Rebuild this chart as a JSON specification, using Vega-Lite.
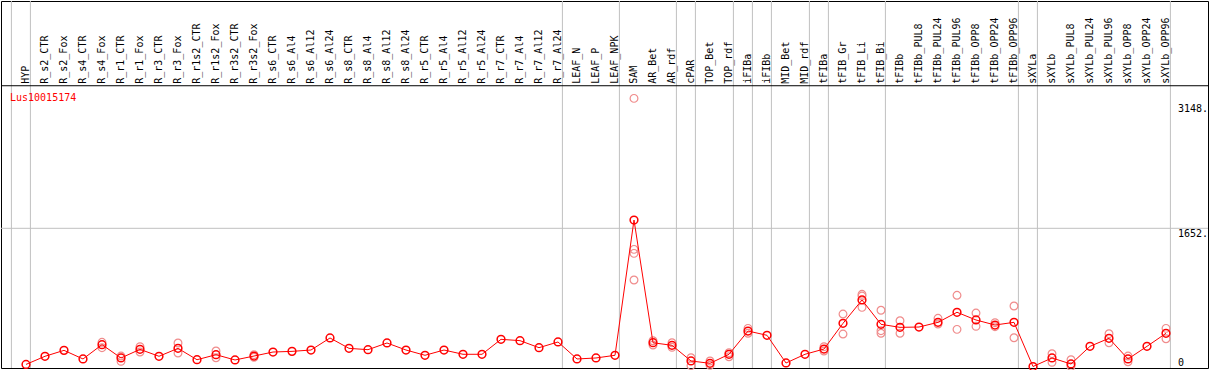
{
  "$schema": "https://vega.github.io/schema/vega-lite/v6.json",
  "width": 1207,
  "height": 367,
  "autosize": {"type": "none"},
  "padding": {"left": 1, "top": 1, "right": 1, "bottom": 2},
  "background": "white",
  "config": {"view": {"stroke": "black", "strokeWidth": 1}, "font": "DejaVu Sans Mono"},
  "title": {"text": "Lus10015174", "anchor": "start", "frame": "group", "orient": "top", "offset": -110, "baseline": "alphabetic", "color": "red", "font": "DejaVu Sans Mono", "fontSize": 10, "fontWeight": "normal", "dx": 9},
  "datasets": {
    "cols": [
      {"idx": 1, "name": "HYP", "mean": 25},
      {"idx": 2, "name": "R_s2_CTR", "mean": 122},
      {"idx": 3, "name": "R_s2_Fox", "mean": 193},
      {"idx": 4, "name": "R_s4_CTR", "mean": 90},
      {"idx": 5, "name": "R_s4_Fox", "mean": 261},
      {"idx": 6, "name": "R_r1_CTR", "mean": 102},
      {"idx": 7, "name": "R_r1_Fox", "mean": 205},
      {"idx": 8, "name": "R_r3_CTR", "mean": 122},
      {"idx": 9, "name": "R_r3_Fox", "mean": 217},
      {"idx": 10, "name": "R_r1s2_CTR", "mean": 81},
      {"idx": 11, "name": "R_r1s2_Fox", "mean": 141},
      {"idx": 12, "name": "R_r3s2_CTR", "mean": 78},
      {"idx": 13, "name": "R_r3s2_Fox", "mean": 125},
      {"idx": 14, "name": "R_s6_CTR", "mean": 173},
      {"idx": 15, "name": "R_s6_Al4", "mean": 181},
      {"idx": 16, "name": "R_s6_Al12", "mean": 197},
      {"idx": 17, "name": "R_s6_Al24", "mean": 341},
      {"idx": 18, "name": "R_s8_CTR", "mean": 217},
      {"idx": 19, "name": "R_s8_Al4", "mean": 201},
      {"idx": 20, "name": "R_s8_Al12", "mean": 281},
      {"idx": 21, "name": "R_s8_Al24", "mean": 197},
      {"idx": 22, "name": "R_r5_CTR", "mean": 134},
      {"idx": 23, "name": "R_r5_Al4", "mean": 197},
      {"idx": 24, "name": "R_r5_Al12", "mean": 146},
      {"idx": 25, "name": "R_r5_Al24", "mean": 146},
      {"idx": 26, "name": "R_r7_CTR", "mean": 325},
      {"idx": 27, "name": "R_r7_Al4", "mean": 309},
      {"idx": 28, "name": "R_r7_Al12", "mean": 225},
      {"idx": 29, "name": "R_r7_Al24", "mean": 293},
      {"idx": 30, "name": "LEAF_N", "mean": 90},
      {"idx": 31, "name": "LEAF_P", "mean": 102},
      {"idx": 32, "name": "LEAF_NPK", "mean": 134},
      {"idx": 33, "name": "SAM", "mean": 1751},
      {"idx": 34, "name": "AR_Bet", "mean": 284},
      {"idx": 35, "name": "AR_rdf", "mean": 253},
      {"idx": 36, "name": "cPAR", "mean": 66},
      {"idx": 37, "name": "TOP_Bet", "mean": 38},
      {"idx": 38, "name": "TOP_rdf", "mean": 146},
      {"idx": 39, "name": "iFIBa", "mean": 424},
      {"idx": 40, "name": "iFIBb", "mean": 373},
      {"idx": 41, "name": "MID_Bet", "mean": 42},
      {"idx": 42, "name": "MID_rdf", "mean": 146},
      {"idx": 43, "name": "tFIBa", "mean": 209},
      {"idx": 44, "name": "tFIB_Gr", "mean": 516},
      {"idx": 45, "name": "tFIB_Li", "mean": 795},
      {"idx": 46, "name": "tFIB_Bi", "mean": 504},
      {"idx": 47, "name": "tFIBb", "mean": 468},
      {"idx": 48, "name": "tFIBb_PUL8", "mean": 472},
      {"idx": 49, "name": "tFIBb_PUL24", "mean": 528},
      {"idx": 50, "name": "tFIBb_PUL96", "mean": 648},
      {"idx": 51, "name": "tFIBb_OPP8", "mean": 556},
      {"idx": 52, "name": "tFIBb_OPP24", "mean": 496},
      {"idx": 53, "name": "tFIBb_OPP96", "mean": 528},
      {"idx": 54, "name": "sXYLa", "mean": 0},
      {"idx": 55, "name": "sXYLb", "mean": 102},
      {"idx": 56, "name": "sXYLb_PUL8", "mean": 30},
      {"idx": 57, "name": "sXYLb_PUL24", "mean": 241},
      {"idx": 58, "name": "sXYLb_PUL96", "mean": 337},
      {"idx": 59, "name": "sXYLb_OPP8", "mean": 90},
      {"idx": 60, "name": "sXYLb_OPP24", "mean": 241},
      {"idx": 61, "name": "sXYLb_OPP96", "mean": 397}
    ],
    "reps": [
      {"idx": 5, "value": 289}, {"idx": 5, "value": 225},
      {"idx": 6, "value": 125}, {"idx": 6, "value": 62},
      {"idx": 7, "value": 237}, {"idx": 7, "value": 173},
      {"idx": 9, "value": 281}, {"idx": 9, "value": 161},
      {"idx": 11, "value": 185}, {"idx": 11, "value": 105},
      {"idx": 13, "value": 141}, {"idx": 13, "value": 110},
      {"idx": 33, "value": 3205}, {"idx": 33, "value": 1400}, {"idx": 33, "value": 1352}, {"idx": 33, "value": 1034},
      {"idx": 34, "value": 308}, {"idx": 34, "value": 257},
      {"idx": 35, "value": 284}, {"idx": 35, "value": 229},
      {"idx": 36, "value": 105}, {"idx": 36, "value": 10},
      {"idx": 37, "value": 66}, {"idx": 37, "value": 14},
      {"idx": 38, "value": 165}, {"idx": 38, "value": 117},
      {"idx": 39, "value": 456}, {"idx": 39, "value": 397},
      {"idx": 43, "value": 237}, {"idx": 43, "value": 185},
      {"idx": 44, "value": 627}, {"idx": 44, "value": 388},
      {"idx": 45, "value": 863}, {"idx": 45, "value": 842}, {"idx": 45, "value": 707},
      {"idx": 46, "value": 672}, {"idx": 46, "value": 428}, {"idx": 46, "value": 397},
      {"idx": 47, "value": 547}, {"idx": 47, "value": 397},
      {"idx": 49, "value": 576}, {"idx": 49, "value": 508},
      {"idx": 50, "value": 851}, {"idx": 50, "value": 444},
      {"idx": 51, "value": 639}, {"idx": 51, "value": 480},
      {"idx": 52, "value": 524}, {"idx": 52, "value": 476},
      {"idx": 53, "value": 723}, {"idx": 53, "value": 344},
      {"idx": 55, "value": 153}, {"idx": 55, "value": 50},
      {"idx": 56, "value": 81}, {"idx": 56, "value": 0},
      {"idx": 58, "value": 392}, {"idx": 58, "value": 284},
      {"idx": 59, "value": 125}, {"idx": 59, "value": 57},
      {"idx": 61, "value": 456}, {"idx": 61, "value": 332}
    ],
    "bounds": [
      {"idx": 0}, {"idx": 1}, {"idx": 29}, {"idx": 32}, {"idx": 35}, {"idx": 36}, {"idx": 38}, {"idx": 39}, {"idx": 40}, {"idx": 42}, {"idx": 43}, {"idx": 46}, {"idx": 53}, {"idx": 54}, {"idx": 61}
    ],
    "ylabels": [
      {"v": 3148, "label": "3148."},
      {"v": 1652, "label": "1652."},
      {"v": 0, "label": "0"}
    ]
  },
  "layer": [
    {
      "data": {"name": "bounds"},
      "mark": {"type": "rule", "color": "#c0c0c0", "strokeWidth": 1, "xOffset": 4.4},
      "encoding": {
        "x": {"field": "idx", "type": "quantitative", "scale": {"domain": [-0.3158, 63.2105], "nice": false, "zero": false}, "axis": null}
      }
    },
    {
      "data": {"values": [{}]},
      "mark": {"type": "rule", "color": "#c0c0c0", "strokeWidth": 1},
      "encoding": {
        "y": {"datum": 1652, "type": "quantitative", "scale": {"domain": [-17.9, 4369], "nice": false, "zero": false}, "axis": null}
      }
    },
    {
      "data": {"values": [{}]},
      "mark": {"type": "rule", "color": "black", "strokeWidth": 1},
      "encoding": {
        "y": {"datum": 3356, "type": "quantitative", "scale": {"domain": [-17.9, 4369], "nice": false, "zero": false}, "axis": null}
      }
    },
    {
      "data": {"name": "cols"},
      "mark": {"type": "text", "angle": 270, "align": "left", "baseline": "middle", "dx": 0, "font": "DejaVu Sans Mono", "fontSize": 10, "color": "black"},
      "encoding": {
        "x": {"field": "idx", "type": "quantitative", "scale": {"domain": [-0.3158, 63.2105], "nice": false, "zero": false}, "axis": null},
        "y": {"datum": 3380, "type": "quantitative", "scale": {"domain": [-17.9, 4369], "nice": false, "zero": false}, "axis": null},
        "text": {"field": "name", "type": "nominal"}
      }
    },
    {
      "data": {"name": "ylabels"},
      "transform": [{"filter": "datum.v > 0"}],
      "mark": {"type": "text", "align": "left", "baseline": "top", "dy": 1, "font": "DejaVu Sans Mono", "fontSize": 10, "color": "black"},
      "encoding": {
        "x": {"datum": 61.63, "type": "quantitative", "scale": {"domain": [-0.3158, 63.2105], "nice": false, "zero": false}, "axis": null},
        "y": {"field": "v", "type": "quantitative", "scale": {"domain": [-17.9, 4369], "nice": false, "zero": false}, "axis": null},
        "text": {"field": "label", "type": "nominal"}
      }
    },
    {
      "data": {"name": "ylabels"},
      "transform": [{"filter": "datum.v == 0"}],
      "mark": {"type": "text", "align": "left", "baseline": "alphabetic", "dy": -1, "font": "DejaVu Sans Mono", "fontSize": 10, "color": "black"},
      "encoding": {
        "x": {"datum": 61.63, "type": "quantitative", "scale": {"domain": [-0.3158, 63.2105], "nice": false, "zero": false}, "axis": null},
        "y": {"field": "v", "type": "quantitative", "scale": {"domain": [-17.9, 4369], "nice": false, "zero": false}, "axis": null},
        "text": {"field": "label", "type": "nominal"}
      }
    },
    {
      "data": {"name": "reps"},
      "mark": {"type": "point", "shape": "circle", "filled": false, "color": "#f08c8c", "strokeWidth": 1.2, "size": 60, "opacity": 1},
      "encoding": {
        "x": {"field": "idx", "type": "quantitative", "scale": {"domain": [-0.3158, 63.2105], "nice": false, "zero": false}, "axis": null},
        "y": {"field": "value", "type": "quantitative", "scale": {"domain": [-17.9, 4369], "nice": false, "zero": false}, "axis": null}
      }
    },
    {
      "data": {"name": "cols"},
      "mark": {"type": "line", "color": "red", "strokeWidth": 1},
      "encoding": {
        "x": {"field": "idx", "type": "quantitative", "scale": {"domain": [-0.3158, 63.2105], "nice": false, "zero": false}, "axis": null},
        "y": {"field": "mean", "type": "quantitative", "scale": {"domain": [-17.9, 4369], "nice": false, "zero": false}, "axis": null}
      }
    },
    {
      "data": {"name": "cols"},
      "mark": {"type": "point", "shape": "circle", "filled": false, "color": "red", "strokeWidth": 1.5, "size": 60, "opacity": 1},
      "encoding": {
        "x": {"field": "idx", "type": "quantitative", "scale": {"domain": [-0.3158, 63.2105], "nice": false, "zero": false}, "axis": null},
        "y": {"field": "mean", "type": "quantitative", "scale": {"domain": [-17.9, 4369], "nice": false, "zero": false}, "axis": null}
      }
    }
  ]
}
